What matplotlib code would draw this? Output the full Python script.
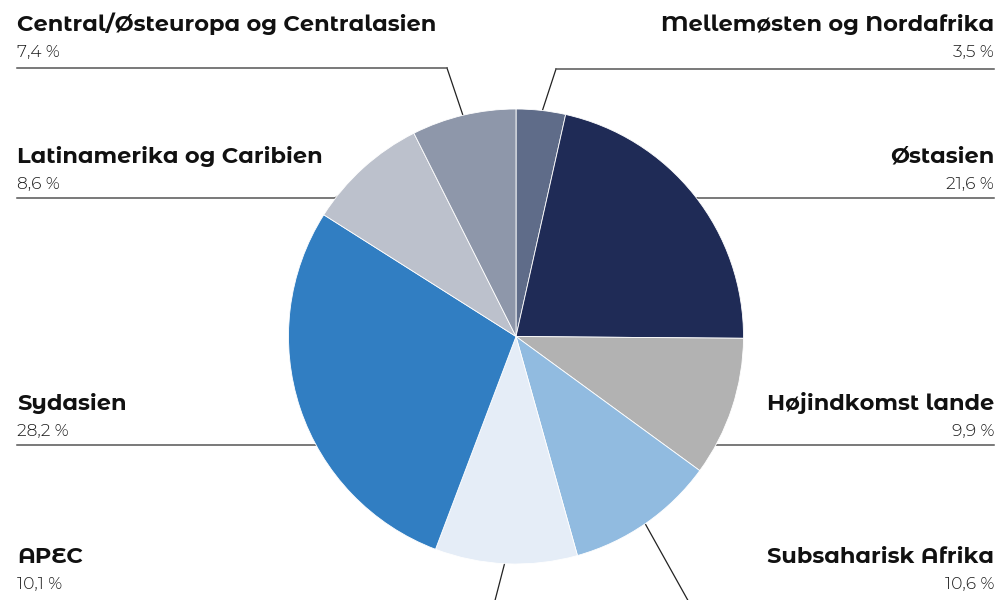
import numpy as np
import matplotlib
matplotlib.use("Agg")
import matplotlib.pyplot as plt

# ---- data ----
regions = ["Mellemøsten og Nordafrika", "Østasien", "Højindkomst lande",
           "Subsaharisk Afrika", "APEC", "Sydasien",
           "Latinamerika og Caribien", "Central/Østeuropa og Centralasien"]
shares = [3.5, 21.6, 9.9, 10.6, 10.1, 28.2, 8.6, 7.4]
pct_labels = ["3,5 %", "21,6 %", "9,9 %", "10,6 %", "10,1 %", "28,2 %", "8,6 %", "7,4 %"]
colors = ["#5f6c89", "#1f2b56", "#b2b2b2", "#91bbe0", "#e5edf7", "#317ec2",
          "#bcc1cc", "#8e97aa"]

# ---- layout (pixel coordinates, y measured from top) ----
W, H = 1003, 600
cx, cy, R = 516, 336.5, 227.5
# side, name baseline, pct baseline, underline y, elbow (x, y)
layout = {
    "Mellemøsten og Nordafrika": ("right", 31, 57, 69, (556, 69)),
    "Østasien": ("right", 163, 189, 198, (697, 198)),
    "Højindkomst lande": ("right", 410, 436, 445, (715, 445)),
    "Subsaharisk Afrika": ("right", 563, 589, 612, (700, 622)),
    "APEC": ("left", 563, 589, 612, (492, 612)),
    "Sydasien": ("left", 410, 436, 445, (317, 445)),
    "Latinamerika og Caribien": ("left", 163, 189, 198, (335, 198)),
    "Central/Østeuropa og Centralasien": ("left", 31, 57, 68, (447, 68)),
}
LX, RX = 17, 994

def Y(p):
    return H - p

fig = plt.figure(figsize=(W / 100, H / 100), dpi=100)
ax = fig.add_axes([0, 0, 1, 1])

wedges, _ = ax.pie(shares, colors=colors, startangle=90, counterclock=False,
                   center=(cx, Y(cy)), radius=R,
                   wedgeprops=dict(edgecolor="white", linewidth=0.6),
                   normalize=True, frame=True)
for w in wedges:
    w.set_zorder(3)
ax.set_xlim(0, W)
ax.set_ylim(0, H)
ax.set_aspect("equal")
ax.axis("off")

name_font = dict(family=["Montserrat Alternates", "DejaVu Sans"], fontsize=16.2,
                 fontweight=700, color="#111111")
pct_font = dict(family=["Montserrat Alternates", "DejaVu Sans"], fontsize=12.3,
                fontweight=300, color="#1a1a1a")

for w, name, pct in zip(wedges, regions, pct_labels):
    side, nb, pb, uy, (ex, ey) = layout[name]
    mid = np.deg2rad((w.theta1 + w.theta2) / 2)
    px = cx + 0.97 * R * np.cos(mid)
    py = Y(cy) + 0.97 * R * np.sin(mid)
    ax.plot([px, ex], [py, Y(ey)], color="#222222", lw=0.9, zorder=1)
    if side == "left":
        ax.plot([LX, ex], [Y(uy), Y(uy)], color="#555555", lw=1.1, zorder=1)
        ax.text(LX, Y(nb), name, ha="left", va="baseline", **name_font)
        ax.text(LX, Y(pb), pct, ha="left", va="baseline", **pct_font)
    else:
        ax.plot([ex, RX], [Y(uy), Y(uy)], color="#555555", lw=1.1, zorder=1)
        ax.text(RX, Y(nb), name, ha="right", va="baseline", **name_font)
        ax.text(RX, Y(pb), pct, ha="right", va="baseline", **pct_font)

fig.savefig("out.png", dpi=100)
